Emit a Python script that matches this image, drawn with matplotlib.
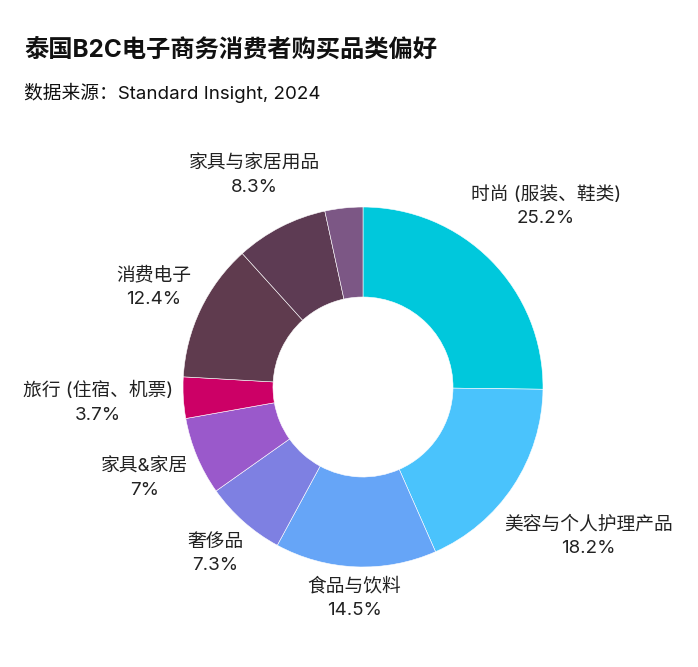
import numpy as np
import matplotlib
matplotlib.use("Agg")
import matplotlib.pyplot as plt

plt.rcParams['font.family'] = ['Inter', 'Noto Sans CJK SC', 'DejaVu Sans']

# ========== Данные ==========
categories = ['时尚 (服装、鞋类)', '美容与个人护理产品', '食品与饮料', '奢侈品', '家具&家居',
              '旅行 (住宿、机票)', '消费电子', '家具与家居用品', '其他']
shares = [25.2, 18.2, 14.5, 7.3, 7, 3.7, 12.4, 8.3, 3.4]
pct_labels = ['25.2%', '18.2%', '14.5%', '7.3%', '7%', '3.7%', '12.4%', '8.3%', '']
colors = ['#00C8DC', '#4AC3FC', '#66A5F7', '#7E80E2', '#9A59CB', '#CC0066',
          '#5F3B4E', '#5D3B53', '#7C5785']

W, H = 698, 667
fig = plt.figure(figsize=(W / 100, H / 100), dpi=100)

fig.text(24 / W, 1 - 50 / H, '泰国B2C电子商务消费者购买品类偏好', fontsize=17.5,
         fontweight='bold', va='center', ha='left', color='#111111')
fig.text(24 / W, 1 - 93 / H, '数据来源：Standard Insight, 2024', fontsize=13.5,
         va='center', ha='left', color='#111111')

# ========== Кольцевая диаграмма ==========
cx, cy, R = 363, 387, 180
ax = fig.add_axes([(cx - R) / W, (H - cy - R) / H, 2 * R / W, 2 * R / H])
wedges, _ = ax.pie(shares, colors=colors, startangle=90, counterclock=False,
                   radius=1.0, wedgeprops=dict(width=0.5, edgecolor='white', linewidth=0.4))
ax.set_xlim(-1, 1)
ax.set_ylim(-1, 1)
ax.set_aspect('equal')
ax.axis('off')

# подписи снаружи с небольшим отступом от кольца
fig.canvas.draw()
renderer = fig.canvas.get_renderer()
gap = 9 / R
for w, name, pct in zip(wedges, categories, pct_labels):
    if not pct:
        continue
    ang = np.deg2rad((w.theta1 + w.theta2) / 2)
    c, s = np.cos(ang), np.sin(ang)
    t = ax.text(0, 0, f'{name}\n{pct}', ha='center', va='center', fontsize=13.5,
                linespacing=1.5, color='#222222', clip_on=False)
    bb = t.get_window_extent(renderer)
    hw = bb.width / 2 / R
    hh = bb.height / 2 / R
    r = 1 + gap + abs(c) * hw + abs(s) * hh
    t.set_position((r * c, r * s))

fig.savefig('out.png', dpi=100)
